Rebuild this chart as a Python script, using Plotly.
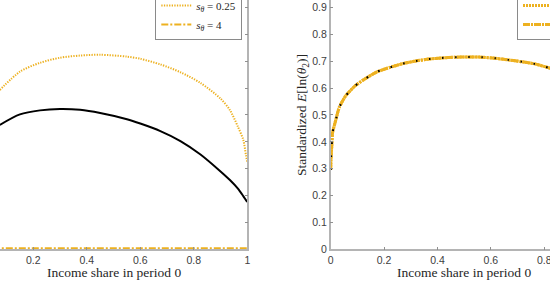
import plotly.graph_objects as go

# ---------------- data ----------------
share_left = [0.075, 0.15, 0.225, 0.30, 0.375, 0.45, 0.55, 0.60, 0.675, 0.75,
              0.825, 0.90, 0.935, 0.965, 0.985, 0.995, 1.0]
left_s1 = [0.463, 0.502, 0.517, 0.522, 0.519, 0.507, 0.484, 0.468, 0.440, 0.403,
           0.353, 0.290, 0.258, 0.226, 0.198, 0.183, 0.176]
left_s025 = [0.593, 0.661, 0.694, 0.713, 0.721, 0.724, 0.717, 0.709, 0.688, 0.659,
             0.619, 0.561, 0.518, 0.456, 0.407, 0.350, 0.325]
share_left_s4 = [0.0, 0.1, 0.2, 0.3, 0.4, 0.5, 0.6, 0.7, 0.8, 0.9, 1.0]
left_s4 = [0.004, 0.004, 0.004, 0.004, 0.004, 0.004, 0.004, 0.004, 0.004, 0.004, 0.004]

share_right = [0.0, 0.001, 0.004, 0.007, 0.019, 0.032, 0.056, 0.091, 0.131, 0.175,
               0.222, 0.270, 0.320, 0.368, 0.416, 0.466, 0.516, 0.566, 0.616, 0.665,
               0.716, 0.765, 0.815, 0.85]
# standardized E[ln(theta_2)] -- the three series coincide in this panel
right_std = [0.295, 0.335, 0.384, 0.434, 0.481, 0.528, 0.571, 0.608, 0.636, 0.661,
             0.677, 0.691, 0.701, 0.708, 0.712, 0.715, 0.716, 0.715, 0.711, 0.705,
             0.698, 0.690, 0.676, 0.665]

x_ticks = [0, 0.2, 0.4, 0.6, 0.8, 1]
y_ticks = [0, 0.1, 0.2, 0.3, 0.4, 0.5, 0.6, 0.7, 0.8, 0.9, 1]

series_names = ["<i>s</i><sub><i>θ</i></sub> = 1",
                "<i>s</i><sub><i>θ</i></sub> = 0.25",
                "<i>s</i><sub><i>θ</i></sub> = 4"]

# ---------------- styling ----------------
W, H = 550, 291
ORANGE = "#EDB120"
AXCOL = "#b4b4b4"
TICKFONT = dict(family="Liberation Sans, Arial, sans-serif", size=10.5, color="#404040")
SERIF = "Liberation Serif, Times New Roman, serif"

fig = go.Figure()

# left panel
fig.add_trace(go.Scatter(x=share_left, y=left_s1, mode="lines", name=series_names[0],
                         line=dict(color="black", width=2, shape="spline", smoothing=0.8),
                         legend="legend", legendrank=1, xaxis="x", yaxis="y"))
fig.add_trace(go.Scatter(x=share_left, y=left_s025, mode="lines", name=series_names[1],
                         line=dict(color=ORANGE, width=2, dash="1.3px,1.3px",
                                   shape="spline", smoothing=0.8),
                         legend="legend", legendrank=2, xaxis="x", yaxis="y"))
fig.add_trace(go.Scatter(x=share_left_s4, y=left_s4, mode="lines", name=series_names[2],
                         line=dict(color=ORANGE, width=1.8, dash="7px,2px,2px,2px"),
                         legend="legend", legendrank=3, xaxis="x", yaxis="y"))

# right panel
fig.add_trace(go.Scatter(x=share_right, y=right_std, mode="lines", name=series_names[2],
                         line=dict(color=ORANGE, width=3, dash="7px,1px,2px,1px",
                                   shape="spline", smoothing=0.6),
                         legend="legend2", legendrank=3, xaxis="x2", yaxis="y2"))
fig.add_trace(go.Scatter(x=share_right, y=right_std, mode="lines", name=series_names[1],
                         line=dict(color=ORANGE, width=3, dash="2px,1px",
                                   shape="spline", smoothing=0.6),
                         legend="legend2", legendrank=2, xaxis="x2", yaxis="y2"))
fig.add_trace(go.Scatter(x=share_right, y=right_std, mode="lines", name=series_names[0],
                         line=dict(color="black", width=2, dash="1.6px,11.5px",
                                   shape="spline", smoothing=0.6),
                         legend="legend2", legendrank=1, xaxis="x2", yaxis="y2"))

x0_px = 249.3  # y pixel of value 0
y_dom = [(H - x0_px) / H, 1.0]
y_range = [0, x0_px / 268.7]

common_axis = dict(showgrid=False, zeroline=False, showline=True, linecolor=AXCOL,
                   linewidth=1.5, ticks="inside", ticklen=3, tickcolor="#909090",
                   tickwidth=1, tickfont=TICKFONT, automargin=False,
                   ticklabeloverflow="allow")

fig.update_layout(
    width=W, height=H,
    margin=dict(l=0, r=0, t=0, b=0, autoexpand=False),
    paper_bgcolor="white", plot_bgcolor="white",
    xaxis=dict(domain=[0, 247.3 / W], range=[20.2 / 267.5, 1.0], anchor="y",
               tickvals=x_ticks, **common_axis),
    yaxis=dict(domain=y_dom, range=y_range, anchor="x", side="right",
               tickvals=y_ticks, showticklabels=False, **common_axis),
    xaxis2=dict(domain=[330.7 / W, 1.0], range=[0, 219.3 / 266.9], anchor="y2",
                tickvals=x_ticks, **common_axis),
    yaxis2=dict(domain=y_dom, range=y_range, anchor="x2", side="left",
                tickvals=y_ticks, **common_axis),
    legend=dict(x=242.3 / W, xanchor="right", y=(H - 40) / H, yanchor="bottom",
                bgcolor="white", bordercolor="#8a8a8a", borderwidth=1,
                font=dict(family=SERIF, size=11, color="#262626"),
                tracegroupgap=0, itemwidth=30),
    legend2=dict(x=517 / W, xanchor="left", y=(H - 40) / H, yanchor="bottom",
                 bgcolor="white", bordercolor="#8a8a8a", borderwidth=1,
                 font=dict(family=SERIF, size=11, color="#262626"),
                 tracegroupgap=0, itemwidth=30),
    showlegend=True,
)

title_font = dict(family=SERIF, size=13.5, color="#262626")
fig.add_annotation(text="Income share in period 0", xref="x", x=0.5, yref="paper",
                   y=(H - 272.7) / H, yanchor="middle", showarrow=False, font=title_font)
fig.add_annotation(text="Income share in period 0", xref="x2", x=0.5, yref="paper",
                   y=(H - 272.7) / H, yanchor="middle", showarrow=False, font=title_font)
fig.add_annotation(text="Standardized <i>E</i>[ln(<i>θ</i><sub>2</sub>)]", xref="paper",
                   x=303 / W, xanchor="center", yref="y2", y=0.5, yanchor="middle",
                   textangle=-90, showarrow=False, font=title_font)

fig.write_html("out.html", config={"displayModeBar": False},
               post_script="document.body.style.margin='0';document.body.style.overflow='hidden';")
